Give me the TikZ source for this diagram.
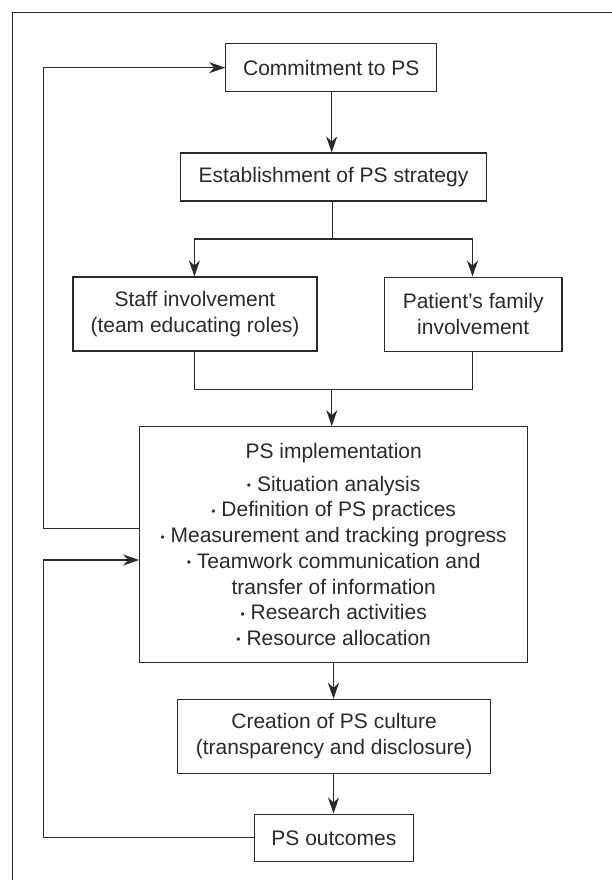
\documentclass[tikz,border=0pt]{standalone}
\usepackage{fontspec}
\setmainfont{Liberation Sans}
\usetikzlibrary{arrows.meta}
\definecolor{ink}{HTML}{2A2A2A}
\newcommand{\bul}{\raisebox{1.6pt}{\fontsize{12}{12}\selectfont •}\ }
\begin{document}
\begin{tikzpicture}[x=1pt,y=-1pt,
  line width=1.1pt, draw=ink, text=ink,
  every node/.style={font=\fontsize{21}{25.7}\selectfont},
  box/.style={draw=ink, line width=1.1pt, align=center, inner sep=0pt},
  conn/.style={draw=ink, line width=1.1pt},
  arr/.style={conn, -{Stealth[length=16pt,width=11pt,inset=5pt]}}]
\useasboundingbox (0,0) rectangle (612,880);
% outer frame (cut off at right and bottom)
\draw[conn] (12.5,880) -- (12.5,12.7) -- (612,12.7);

\node[box, minimum width=211pt, minimum height=48pt] (commit) at (331.2,67.7) {Commitment to PS};
\node[box, minimum width=306.4pt, minimum height=48pt] (estab) at (333.5,177) {Establishment of PS strategy};
\node[box, minimum width=244pt, minimum height=74pt] (staff) at (195,314) {Staff involvement\\(team educating roles)};
\node[box, minimum width=177.5pt, minimum height=74.5pt] (patient) at (473.2,314.3) {Patient’s family\\involvement};
\node[box, minimum width=388pt, minimum height=235.6pt] (impl) at (333.7,544.5)
  {PS implementation\\[7pt]
   \bul Situation analysis\\
   \bul Definition of PS practices\\
   \bul Measurement and tracking progress\\
   \bul Teamwork communication and\\
   transfer of information\\
   \bul Research activities\\
   \bul Resource allocation};
\node[box, minimum width=313pt, minimum height=73.7pt] (culture) at (334.1,736.2) {Creation of PS culture\\(transparency and disclosure)};
\node[box, minimum width=158.8pt, minimum height=47.7pt] (outcomes) at (333.9,837.9) {PS outcomes};

\coordinate (branch) at (332.3,239);
\coordinate (merge) at (331.8,389.3);
\coordinate (fbA) at (43.5,528.7);
\coordinate (fbB) at (43.5,560);

% spine
\draw[arr] (commit.south -| 331.7,0) -- (estab.north -| 331.7,0);
\draw[conn] (estab.south -| branch) -- (branch);
\draw[arr] (branch) -| (staff.north -| 194.4,0);
\draw[arr] (branch) -| (patient.north -| 472.5,0);
\draw[conn] (staff.south -| 194.4,0) |- (merge);
\draw[conn] (patient.south -| 472.5,0) |- (merge);
\draw[arr] (merge) -- (impl.north -| merge);
\draw[arr] (impl.south -| 333.5,0) -- (culture.north -| 333.5,0);
\draw[arr] (culture.south -| 333.5,0) -- (outcomes.north -| 333.5,0);

% feedback loops
\draw[arr] (impl.west |- fbA) -- (fbA) |- (commit.west);
\draw[arr] (outcomes.west) -| (fbB) -- (impl.west |- fbB);
\end{tikzpicture}
\end{document}
